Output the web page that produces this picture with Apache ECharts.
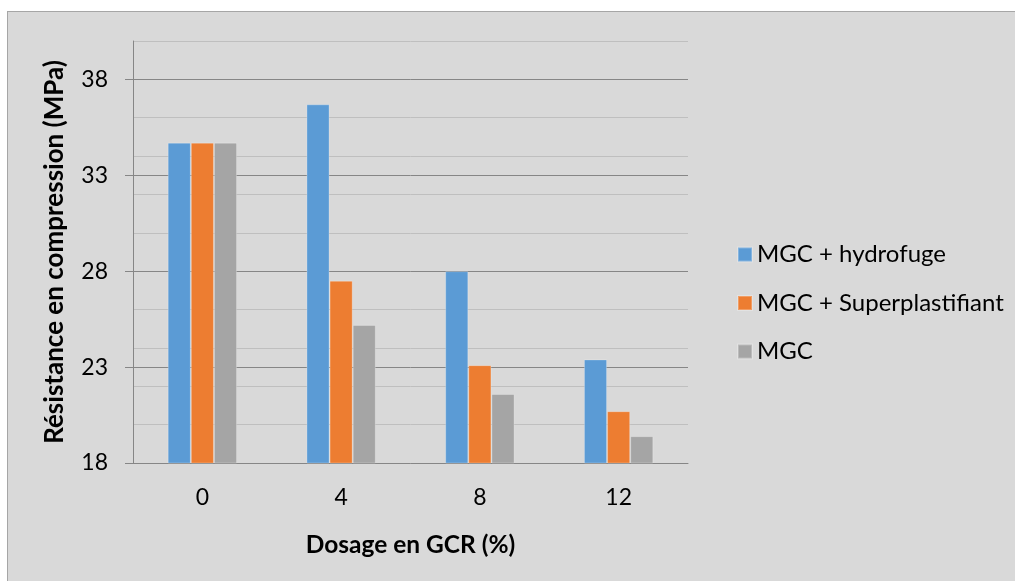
<!DOCTYPE html>
<html>
<head>
<meta charset="utf-8">
<script src="https://cdn.jsdelivr.net/npm/echarts@6/dist/echarts.min.js"></script>
<style>
  html, body { margin: 0; padding: 0; background: #ffffff; }
  #frame { position: absolute; left: 7px; top: 11px; width: 1100px; height: 700px;
           background: #d9d9d9; border: 1px solid #a6a6a6; box-sizing: border-box; }
  #chart { position: absolute; left: 0; top: 0; width: 1015px; height: 581px; }
</style>
</head>
<body>
<div id="frame"></div>
<div id="chart"></div>
<script>
// Dosage en GCR (%) categories
const categories = ['0', '4', '8', '12'];
// Compressive strength (MPa) per mix
const hydrofuge = [34.7, 36.7, 28.0, 23.4];
const superplastifiant = [34.7, 27.5, 23.1, 20.7];
const mgc = [34.7, 25.2, 21.6, 19.4];
const seriesNames = ['MGC + hydrofuge', 'MGC + Superplastifiant', 'MGC'];
const seriesColors = ['#5b9bd5', '#ed7d31', '#a5a5a5'];

const FONT = 'Lato, "Open Sans", sans-serif';

const chart = echarts.init(document.getElementById('chart'), null, { renderer: 'canvas' });

function barSeries(name, data, color) {
  return {
    name: name,
    type: 'bar',
    yAxisIndex: 0,
    data: data,
    barGap: '0%',
    barCategoryGap: '50%',
    itemStyle: { color: color, borderColor: 'rgba(255,255,255,0.25)', borderWidth: 1 },
    z: 3
  };
}

chart.setOption({
  backgroundColor: 'transparent',
  animation: false,
  textStyle: { fontFamily: FONT },
  grid: { left: 133, right: 327, top: 41, bottom: 118, containLabel: false },
  legend: {
    orient: 'vertical',
    left: 732,
    top: 237,
    itemWidth: 14,
    itemHeight: 14,
    itemGap: 23.5,
    icon: 'rect',
    data: seriesNames,
    textStyle: { fontFamily: FONT, fontSize: 24, color: '#000', lineHeight: 25 }
  },
  xAxis: {
    type: 'category',
    data: categories,
    axisLine: { show: true, lineStyle: { color: '#868686', width: 1 } },
    axisTick: { show: false },
    axisLabel: { fontFamily: FONT, fontSize: 23, color: '#000', margin: 23 },
    name: 'Dosage en GCR (%)',
    nameLocation: 'middle',
    nameGap: 70,
    nameMoveOverlap: false,
    nameTextStyle: { fontFamily: FONT, fontSize: 24.5, fontWeight: 'bold', color: '#000' }
  },
  yAxis: [
    {
      type: 'value',
      min: 18,
      max: 40,
      interval: 5,
      z: 2,
      axisLine: { show: true, lineStyle: { color: '#868686', width: 1 } },
      axisTick: { show: true, inside: false, length: 8, lineStyle: { color: '#868686' } },
      axisLabel: { fontFamily: FONT, fontSize: 23, color: '#000', margin: 25, showMaxLabel: false,
                   formatter: v => (v === 40 ? '' : String(v)) },
      splitLine: { show: true, showMaxLine: false, lineStyle: { color: '#868686', width: 1 } },
      name: 'Résistance en compression (MPa)',
      nameLocation: 'middle',
      nameGap: 65,
      nameMoveOverlap: false,
      nameTextStyle: { fontFamily: FONT, fontSize: 26, fontWeight: 'bold', color: '#000' }
    },
    {
      type: 'value',
      min: 18,
      max: 40,
      interval: 2,
      position: 'left',
      z: 1,
      axisLine: { show: false },
      axisTick: { show: false },
      axisLabel: { show: false },
      splitLine: { show: true, lineStyle: { color: '#bfbfbf', width: 1 } }
    }
  ],
  series: [
    barSeries(seriesNames[0], hydrofuge, seriesColors[0]),
    barSeries(seriesNames[1], superplastifiant, seriesColors[1]),
    barSeries(seriesNames[2], mgc, seriesColors[2])
  ]
});
</script>
</body>
</html>
